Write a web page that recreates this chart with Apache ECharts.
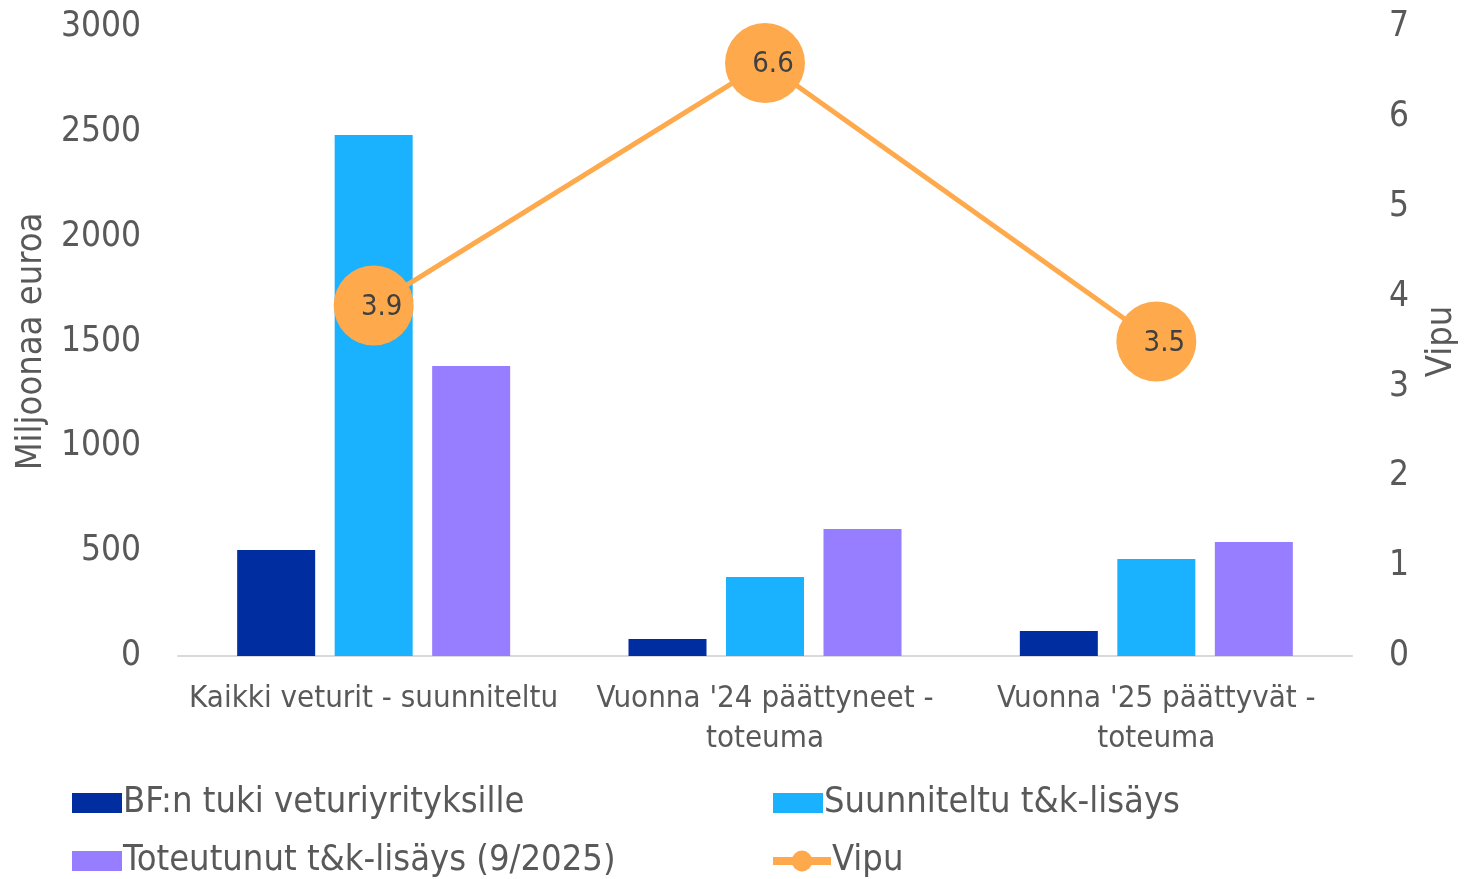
<!DOCTYPE html>
<html>
<head>
<meta charset="utf-8">
<script src="https://cdn.jsdelivr.net/npm/echarts@6/dist/echarts.min.js"></script>
<style>
  html, body { margin: 0; padding: 0; background: #fff; }
  #chart { width: 1468px; height: 879px; }
</style>
</head>
<body>
<div id="chart"></div>
<script>
const categories = ['Kaikki veturit - suunniteltu', "Vuonna '24 päättyneet -\ntoteuma", "Vuonna '25 päättyvät -\ntoteuma"];
const tukiValues = [505, 81, 119];
const suunniteltuValues = [2485, 377, 463];
const toteutunutValues = [1383, 606, 544];
const vipuValues = [3.9, 6.6, 3.5];

const leftTicks = [0, 500, 1000, 1500, 2000, 2500, 3000];
const rightTicks = [0, 1, 2, 3, 4, 5, 6, 7];

const font = '"DejaVu Sans Condensed", "DejaVu Sans", sans-serif';
const grey = '#595959';

const chart = echarts.init(document.getElementById('chart'));

// one legend per item so they sit in a 2x2 grid
function legendItem(name, left, top, extra) {
  return Object.assign({
    left: left, top: top, itemWidth: 50, itemHeight: 20, icon: 'rect',
    textStyle: { fontSize: 36, color: grey, padding: [0, 0, 0, -4] },
    data: [name]
  }, extra || {});
}

chart.setOption({
  animation: false,
  textStyle: { fontFamily: font },
  grid: { left: 178, right: 113, top: 27, bottom: 223 },
  legend: [
    legendItem('BF:n tuki veturiyrityksille', 67, 780),
    legendItem('Toteutunut t&k-lisäys (9/2025)', 67, 838),
    legendItem('Suunniteltu t&k-lisäys', 768, 780),
    legendItem('Vipu', 764, 838, { icon: null, itemWidth: 58, itemHeight: 26, lineStyle: { width: 8 } })
  ],
  xAxis: {
    type: 'category',
    data: categories,
    axisLine: { lineStyle: { color: '#d9d9d9', width: 2 } },
    axisTick: { show: false },
    axisLabel: { fontSize: 31, color: grey, margin: 23, lineHeight: 40, interval: 0 }
  },
  yAxis: [
    {
      type: 'value', min: 0, max: 3000, interval: 500,
      name: 'Miljoonaa euroa', nameLocation: 'middle', nameGap: 128,
      nameTextStyle: { fontSize: 36, color: grey },
      axisLabel: { fontSize: 35, color: grey, margin: 37,
        formatter: v => leftTicks.includes(v) ? String(v) : '' },
      splitLine: { show: false },
      axisLine: { show: false }
    },
    {
      type: 'value', min: 0, max: 7, interval: 1,
      name: 'Vipu', nameLocation: 'middle', nameGap: 72,
      nameTextStyle: { fontSize: 36, color: grey },
      axisLabel: { fontSize: 35, color: grey, margin: 37,
        formatter: v => rightTicks.includes(v) ? String(v) : '' },
      splitLine: { show: false },
      axisLine: { show: false }
    }
  ],
  series: [
    {
      name: 'BF:n tuki veturiyrityksille', type: 'bar', data: tukiValues,
      barWidth: 78, barGap: '25%',
      itemStyle: { color: '#002D9F' }
    },
    {
      name: 'Suunniteltu t&k-lisäys', type: 'bar', data: suunniteltuValues,
      barWidth: 78, barGap: '25%',
      itemStyle: { color: '#1AB2FF' }
    },
    {
      name: 'Toteutunut t&k-lisäys (9/2025)', type: 'bar', data: toteutunutValues,
      barWidth: 78, barGap: '25%',
      itemStyle: { color: '#977DFF' }
    },
    {
      name: 'Vipu', type: 'line', yAxisIndex: 1, data: vipuValues,
      symbol: 'circle', symbolSize: 80,
      lineStyle: { color: '#FFA94D', width: 5 },
      itemStyle: { color: '#FFA94D' },
      label: { show: true, position: 'inside', offset: [8, 2],
        fontSize: 29, color: '#404040', formatter: p => p.value.toFixed(1) },
      z: 5
    }
  ]
});
</script>
</body>
</html>
